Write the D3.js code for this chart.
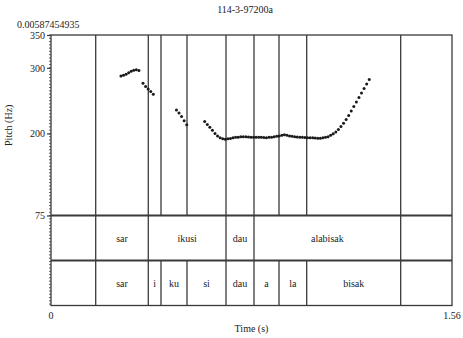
<!DOCTYPE html>
<html>
<head>
<meta charset="utf-8">
<script src="https://cdn.jsdelivr.net/npm/d3@7"></script>
<style>
  html, body { margin: 0; padding: 0; background: #fff; }
  svg { display: block; }
  text { font-family: "Liberation Serif", "DejaVu Serif", serif; fill: #222; }
</style>
</head>
<body>
<svg id="chart" width="463" height="338"></svg>
<script>
// Pitch track (seconds, Hz), three voiced stretches plus the long final one
const pitchTime = [
  0.272, 0.282, 0.292, 0.302, 0.312, 0.322, 0.332, 0.342,
  0.358, 0.368, 0.378, 0.388, 0.398,
  0.488, 0.498, 0.508, 0.518, 0.528,
  0.598, 0.608, 0.618, 0.628, 0.638, 0.648, 0.658, 0.668, 0.678, 0.688,
  0.698, 0.708, 0.718, 0.728, 0.738, 0.748, 0.758, 0.768, 0.778, 0.788,
  0.798, 0.808, 0.818, 0.828, 0.838, 0.848, 0.858, 0.868, 0.878, 0.888,
  0.898, 0.908, 0.918, 0.928, 0.938, 0.948, 0.958, 0.968, 0.978, 0.988,
  0.998, 1.008, 1.018, 1.028, 1.038, 1.048, 1.058, 1.068, 1.078, 1.088,
  1.098, 1.108, 1.118, 1.128, 1.138, 1.148, 1.158, 1.168, 1.178, 1.188,
  1.198, 1.208, 1.218, 1.228, 1.238
];
const pitchHz = [
  287.6, 288.7, 290.2, 292.5, 294.8, 296.4, 297.1, 296.0,
  276.5, 271.6, 267.8, 264.0, 259.8,
  235.9, 231.3, 226.0, 219.2, 213.1,
  218.1, 213.8, 209.3, 204.7, 200.1, 196.3, 193.3, 191.8, 191.3, 191.8,
  192.5, 193.3, 194.1, 194.4, 194.8, 194.8, 194.8, 194.5, 194.1, 194.1,
  194.4, 194.4, 194.1, 193.8, 193.6, 194.1, 194.4, 194.8, 195.6, 196.3,
  197.1, 197.9, 197.1, 196.3, 195.6, 194.8, 194.5, 194.4, 194.1, 193.8,
  193.6, 193.6, 193.3, 193.0, 192.8, 192.8, 193.3, 194.1, 195.1, 197.1,
  199.4, 202.4, 206.2, 210.5, 215.4, 221.4, 227.5, 234.4, 241.2, 248.1,
  254.9, 261.8, 268.6, 275.5, 282.3
];

// Annotation tiers: boundary times and interval labels
const wordBounds = [0.1739, 0.3785, 0.6808, 0.7897, 1.3604];
const wordLabels = ["sar", "ikusi", "dau", "alabisak"];
const syllBounds = [0.1739, 0.3785, 0.4279, 0.5291, 0.6808, 0.7897, 0.8870, 0.9947, 1.3604];
const syllLabels = ["sar", "i", "ku", "si", "dau", "a", "la", "bisak"];

// Axis settings
const timeDomain = [0, 1.56];
const timeTickLabels = ["0", "1.56"];
const pitchDomain = [75, 350];
const pitchTicks = [75, 200, 300, 350];
const chartTitle = "114-3-97200a";
const startLabel = "0.00587454935";

const svg = d3.select("#chart");
const plotLeft = 51, plotRight = 452, plotTop = 35, pitchBottom = 215.5;
const tierH = 45;
const tier1Bottom = pitchBottom + tierH;
const tier2Bottom = tier1Bottom + tierH;
const lineCol = "#3a3a3a";

const x = d3.scaleLinear().domain(timeDomain).range([plotLeft, plotRight]);
const y = d3.scaleLinear().domain(pitchDomain).range([pitchBottom, plotTop]);

// Frame
svg.append("rect")
  .attr("x", plotLeft).attr("y", plotTop)
  .attr("width", plotRight - plotLeft).attr("height", tier2Bottom - plotTop)
  .attr("fill", "none").attr("stroke", lineCol).attr("stroke-width", 1.3);

// Horizontal separators between pitch panel and tiers
[pitchBottom, tier1Bottom].forEach(v => {
  svg.append("line")
    .attr("x1", plotLeft).attr("x2", plotRight).attr("y1", v).attr("y2", v)
    .attr("stroke", lineCol).attr("stroke-width", 2);
});

// Syllable boundaries run through the pitch panel and the lower tier
svg.append("g").selectAll("line").data(syllBounds).join("line")
  .attr("x1", d => x(d)).attr("x2", d => x(d))
  .attr("y1", plotTop).attr("y2", pitchBottom)
  .attr("stroke", lineCol).attr("stroke-width", 1.3);
svg.append("g").selectAll("line").data(syllBounds).join("line")
  .attr("x1", d => x(d)).attr("x2", d => x(d))
  .attr("y1", tier1Bottom).attr("y2", tier2Bottom)
  .attr("stroke", lineCol).attr("stroke-width", 1.3);
// Word boundaries in the upper tier
svg.append("g").selectAll("line").data(wordBounds).join("line")
  .attr("x1", d => x(d)).attr("x2", d => x(d))
  .attr("y1", pitchBottom).attr("y2", tier1Bottom)
  .attr("stroke", lineCol).attr("stroke-width", 1.3);

// Tier labels centred in their intervals
const wordMid = wordLabels.map((l, i) => ({ l, t: (wordBounds[i] + wordBounds[i + 1]) / 2 }));
svg.append("g").selectAll("text").data(wordMid).join("text")
  .attr("x", d => x(d.t)).attr("y", (pitchBottom + tier1Bottom) / 2 + 3.5)
  .attr("text-anchor", "middle").attr("font-size", 10).text(d => d.l);
const syllMid = syllLabels.map((l, i) => ({ l, t: (syllBounds[i] + syllBounds[i + 1]) / 2 }));
svg.append("g").selectAll("text").data(syllMid).join("text")
  .attr("x", d => x(d.t)).attr("y", (tier1Bottom + tier2Bottom) / 2 + 3.5)
  .attr("text-anchor", "middle").attr("font-size", 10).text(d => d.l);

// Pitch points
const pts = pitchTime.map((t, i) => ({ t, f: pitchHz[i] }));
svg.append("g").selectAll("circle").data(pts).join("circle")
  .attr("cx", d => x(d.t)).attr("cy", d => y(d.f))
  .attr("r", 1.5).attr("fill", "#1a1a1a");

// Left axis: minor ticks along the full frame height, labelled majors
const pxPerHz = (pitchBottom - plotTop) / (pitchDomain[1] - pitchDomain[0]);
const lowHz = pitchDomain[0] - (tier2Bottom - pitchBottom) / pxPerHz;
const minor = d3.range(pitchDomain[1], lowHz, -5);
svg.append("g").selectAll("line").data(minor).join("line")
  .attr("x1", plotLeft - 2).attr("x2", plotLeft)
  .attr("y1", d => y(d)).attr("y2", d => y(d))
  .attr("stroke", lineCol).attr("stroke-width", 0.8);
const yAxis = svg.append("g").attr("transform", `translate(${plotLeft},0)`)
  .call(d3.axisLeft(y).tickValues(pitchTicks).tickSize(4).tickPadding(2).tickFormat(d3.format("d")));
yAxis.select(".domain").remove();
yAxis.selectAll("line").attr("stroke", lineCol).attr("stroke-width", 1.2);
yAxis.selectAll("text").attr("font-size", 10).attr("font-family", "Liberation Serif, serif").attr("fill", "#222");

// Bottom time labels
svg.append("g").selectAll("text").data(timeDomain).join("text")
  .attr("x", d => x(d)).attr("y", tier2Bottom + 13)
  .attr("text-anchor", "middle").attr("font-size", 10)
  .text((d, i) => timeTickLabels[i]);

// Titles
svg.append("text").attr("x", 245).attr("y", 13).attr("text-anchor", "middle")
  .attr("font-size", 10).text(chartTitle);
svg.append("text").attr("x", 17).attr("y", 28).attr("font-size", 10).text(startLabel);
svg.append("text").attr("x", (plotLeft + plotRight) / 2).attr("y", 332).attr("text-anchor", "middle")
  .attr("font-size", 10).text("Time (s)");
svg.append("text")
  .attr("transform", `translate(12,${(plotTop + pitchBottom) / 2}) rotate(-90)`)
  .attr("text-anchor", "middle").attr("font-size", 10).text("Pitch (Hz)");
</script>
</body>
</html>
